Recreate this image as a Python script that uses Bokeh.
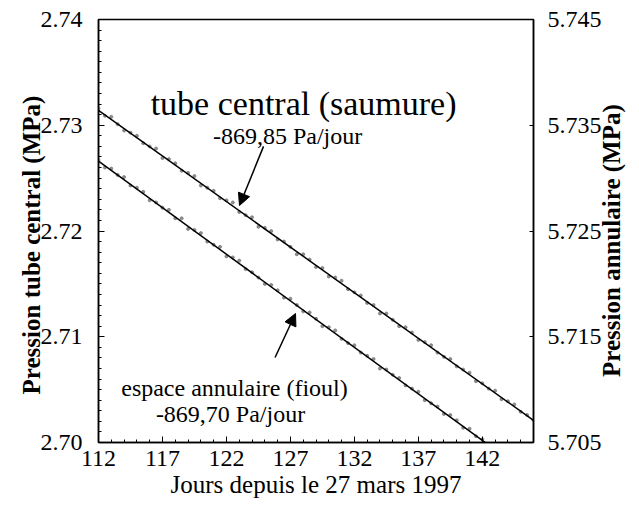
import math
from bokeh.plotting import figure
from bokeh.models import (Range1d, LinearAxis, FixedTicker, PrintfTickFormatter,
                          CustomJSTickFormatter, Label, Arrow, NormalHead)
from bokeh.embed import file_html
from bokeh.resources import INLINE

# ---------------- data ----------------
days_obs = [112.0, 112.5, 113.0, 113.5, 114.0, 114.5, 115.0, 115.5, 116.0, 116.5,
            117.0, 117.5, 118.0, 118.5, 119.0, 119.5, 120.0, 120.5, 121.0, 121.5,
            122.0, 122.5, 123.0, 123.5, 124.0, 124.5, 125.0, 125.5, 126.0, 126.5,
            127.0, 127.5, 128.0, 128.5, 129.0, 129.5, 130.0, 130.5, 131.0, 131.5,
            132.0, 132.5, 133.0, 133.5, 134.0, 134.5, 135.0, 135.5, 136.0, 136.5,
            137.0, 137.5, 138.0, 138.5, 139.0, 139.5, 140.0, 140.5, 141.0, 141.5,
            142.0, 142.5, 143.0, 143.5, 144.0, 144.5, 145.0, 145.5, 146.0]

tube_obs = [2.7316, 2.7309, 2.7308, 2.7301, 2.7295, 2.7293, 2.7290, 2.7283, 2.7280, 2.7278,
            2.7269, 2.7268, 2.7264, 2.7257, 2.7255, 2.7252, 2.7243, 2.7241, 2.7238, 2.7231,
            2.7229, 2.7227, 2.7218, 2.7215, 2.7213, 2.7204, 2.7203, 2.7200, 2.7192, 2.7190,
            2.7185, 2.7178, 2.7178, 2.7173, 2.7166, 2.7165, 2.7157, 2.7156, 2.7153, 2.7145,
            2.7142, 2.7139, 2.7132, 2.7130, 2.7122, 2.7122, 2.7116, 2.7110, 2.7109, 2.7104,
            2.7097, 2.7095, 2.7092, 2.7085, 2.7081, 2.7079, 2.7072, 2.7069, 2.7066, 2.7058,
            2.7056, 2.7051, 2.7049, 2.7041, 2.7039, 2.7036, 2.7029, 2.7026, 2.7021]

annu_obs = [5.7317, 5.7310, 5.7309, 5.7303, 5.7301, 5.7293, 5.7291, 5.7287, 5.7279, 5.7277,
            5.7272, 5.7270, 5.7262, 5.7262, 5.7252, 5.7251, 5.7248, 5.7240, 5.7237, 5.7235,
            5.7226, 5.7225, 5.7222, 5.7214, 5.7211, 5.7206, 5.7200, 5.7199, 5.7194, 5.7187,
            5.7186, 5.7180, 5.7174, 5.7173, 5.7167, 5.7160, 5.7159, 5.7156, 5.7148, 5.7144,
            5.7142, 5.7135, 5.7132, 5.7129, 5.7120, 5.7119, 5.7114, 5.7111, 5.7104, 5.7101,
            5.7098, 5.7090, 5.7087, 5.7084, 5.7077, 5.7076, 5.7071, 5.7064, 5.7063, 5.7056,
            5.7053]

fit_tube_days = [112.0, 146.0]
fit_tube = [2.7314, 2.7021]
fit_annu_days = [112.0, 143.0]
fit_annu = [5.7316, 5.70432]

x_ticks = [112, 117, 122, 127, 132, 137, 142]
x_minor = list(range(112, 147))
left_ticks = [2.70, 2.71, 2.72, 2.73, 2.74]
left_minor = [round(2.70 + 0.001 * i, 3) for i in range(41)]
right_ticks = [5.705, 5.715, 5.725, 5.735, 5.745]

left_title = "Pression tube central (MPa)"
right_title = "Pression annulaire (MPa)"

FONT = "Liberation Serif"

p = figure(frame_width=435, frame_height=423,
           min_border_left=98, min_border_right=104, min_border_top=19, min_border_bottom=67,
           x_range=Range1d(112, 146), y_range=Range1d(2.70, 2.74),
           output_backend="svg", toolbar_location=None,
           background_fill_color="white", border_fill_color="white")
p.xgrid.visible = False
p.ygrid.visible = False
p.outline_line_color = "black"
p.outline_line_width = 1.5

p.extra_y_ranges = {"annu": Range1d(5.705, 5.745)}

def style_axis(ax):
    ax.axis_line_color = "black"
    ax.axis_line_width = 1.5
    ax.major_tick_in = 6
    ax.major_tick_out = 0
    ax.minor_tick_in = 3
    ax.minor_tick_out = 0
    ax.major_tick_line_color = "black"
    ax.minor_tick_line_color = "black"
    ax.major_label_text_font = FONT
    ax.major_label_text_font_size = "24px"
    ax.major_label_text_color = "black"
    ax.axis_label_text_font = FONT
    ax.axis_label_text_color = "black"

def title_axis(ax, text, standoff):
    # an axis with a single, rotated label used as a vertical title
    ax.axis_line_color = None
    ax.major_tick_line_color = None
    ax.minor_tick_line_color = None
    ax.major_tick_in = 0
    ax.major_tick_out = 0
    ax.minor_tick_in = 0
    ax.minor_tick_out = 0
    ax.formatter = CustomJSTickFormatter(code="return %r;" % text)
    ax.major_label_orientation = math.pi / 2
    ax.major_label_text_font = FONT
    ax.major_label_text_font_size = "25px"
    ax.major_label_text_font_style = "bold"
    ax.major_label_text_color = "black"
    ax.major_label_standoff = standoff

# bottom axis
xa = p.xaxis[0]
xa.ticker = FixedTicker(ticks=x_ticks, minor_ticks=x_minor)
style_axis(xa)
xa.axis_label = "Jours depuis le 27 mars 1997"
xa.axis_label_text_font_style = "normal"
xa.axis_label_text_font_size = "25px"
xa.major_label_standoff = 8
xa.axis_label_standoff = 2

# left axis
ya = p.yaxis[0]
ya.ticker = FixedTicker(ticks=left_ticks, minor_ticks=left_minor)
ya.formatter = PrintfTickFormatter(format="%.2f")
style_axis(ya)
ya.major_label_standoff = 16

lt = LinearAxis(ticker=FixedTicker(ticks=[2.7328], minor_ticks=[]))
title_axis(lt, left_title, 6)
p.add_layout(lt, "left")

# right axis
ra = LinearAxis(y_range_name="annu")
ra.ticker = FixedTicker(ticks=right_ticks, minor_ticks=[])
ra.formatter = PrintfTickFormatter(format="%.3f")
style_axis(ra)
ra.major_tick_in = 4
ra.major_label_standoff = 14
p.add_layout(ra, "right")

rt = LinearAxis(y_range_name="annu", ticker=FixedTicker(ticks=[5.7112], minor_ticks=[]))
title_axis(rt, right_title, 7)
p.add_layout(rt, "right")

# data
p.scatter(days_obs, tube_obs, size=3, color="#777777", alpha=0.8)
p.scatter(days_obs[:len(annu_obs)], annu_obs, size=3, color="#777777", alpha=0.8,
          y_range_name="annu")
p.line(fit_tube_days, fit_tube, line_color="black", line_width=1.5)
p.line(fit_annu_days, fit_annu, line_color="black", line_width=1.5, y_range_name="annu")

# annotations
p.add_layout(Label(x=128.03, y=2.73206, text="tube central (saumure)", text_font=FONT,
                   text_font_size="34px", text_align="center", text_baseline="alphabetic",
                   text_color="black"))
p.add_layout(Label(x=126.78, y=2.72903, text="-869,85 Pa/jour", text_font=FONT,
                   text_font_size="24px", text_align="center", text_baseline="alphabetic",
                   text_color="black"))
p.add_layout(Label(x=122.63, y=2.70520, text="espace annulaire (fioul)", text_font=FONT,
                   text_font_size="24px", text_align="center", text_baseline="alphabetic",
                   text_color="black"))
p.add_layout(Label(x=122.32, y=2.70274, text="-869,70 Pa/jour", text_font=FONT,
                   text_font_size="24px", text_align="center", text_baseline="alphabetic",
                   text_color="black"))

p.add_layout(Arrow(x_start=124.9, y_start=2.7280, x_end=123.02, y_end=2.72241,
                   line_color="black", line_width=1.5,
                   end=NormalHead(size=12, fill_color="black", line_color="black")))
p.add_layout(Arrow(x_start=125.8, y_start=2.70804, x_end=127.4, y_end=2.71220,
                   line_color="black", line_width=1.5,
                   end=NormalHead(size=12, fill_color="black", line_color="black")))

open("out.html", "w").write(file_html(p, INLINE))
